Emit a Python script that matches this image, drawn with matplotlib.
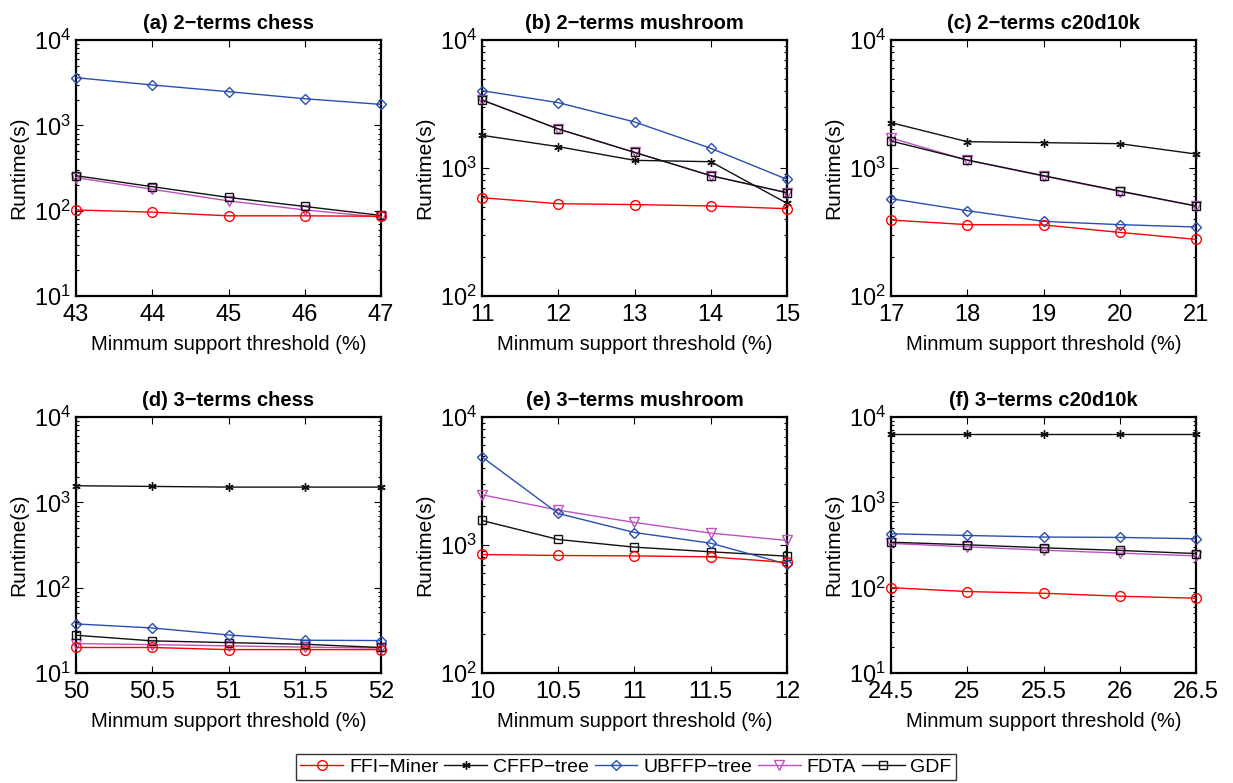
import matplotlib
matplotlib.use("Agg")
import matplotlib.pyplot as plt
from matplotlib.ticker import LogLocator, NullFormatter
import numpy as np

plt.rcParams['font.family'] = ['Liberation Sans', 'DejaVu Sans']
plt.rcParams['mathtext.fontset'] = 'custom'
plt.rcParams['mathtext.rm'] = 'Liberation Sans'
plt.rcParams['mathtext.it'] = 'Liberation Sans:italic'
plt.rcParams['mathtext.bf'] = 'Liberation Sans:bold'

series_names = ["FFI\u2212Miner", "CFFP\u2212tree", "UBFFP\u2212tree", "FDTA", "GDF"]

# (a) 2-terms chess
x_a = [43, 44, 45, 46, 47]
ffi_a = [102, 96, 87, 87, 86]
cffp_a = None
ubffp_a = [3620, 2970, 2480, 2050, 1760]
fdta_a = [244, 178, 130, 102, 84]
gdf_a = [257, 191, 143, 112, 88]

# (b) 2-terms mushroom
x_b = [11, 12, 13, 14, 15]
ffi_b = [586, 526, 518, 505, 481]
cffp_b = [1800, 1468, 1148, 1120, 530]
ubffp_b = [4020, 3240, 2290, 1425, 815]
fdta_b = [3400, 2018, 1325, 871, 641]
gdf_b = [3400, 2018, 1325, 871, 641]

# (c) 2-terms c20d10k
x_c = [17, 18, 19, 20, 21]
ffi_c = [392, 361, 359, 314, 277]
cffp_c = [2260, 1605, 1578, 1549, 1286]
ubffp_c = [576, 464, 383, 361, 346]
fdta_c = [1715, 1150, 865, 655, 505]
gdf_c = [1625, 1155, 871, 661, 505]

# (d) 3-terms chess
x_d = [50, 50.5, 51, 51.5, 52]
ffi_d = [19.9, 19.9, 18.8, 18.8, 18.8]
cffp_d = [1564, 1536, 1508, 1508, 1508]
ubffp_d = [37.6, 33.7, 27.9, 24.2, 24.0]
fdta_d = [22.1, 21.5, 20.8, 20.1, 19.6]
gdf_d = [27.7, 23.8, 22.7, 21.7, 19.9]

# (e) 3-terms mushroom
x_e = [10, 10.5, 11, 11.5, 12]
ffi_e = [843, 828, 822, 808, 730]
cffp_e = None
ubffp_e = [4870, 1763, 1252, 1033, 708]
fdta_e = [2468, 1873, 1500, 1238, 1085]
gdf_e = [1554, 1104, 962, 885, 818]

# (f) 3-terms c20d10k
x_f = [24.5, 25, 25.5, 26, 26.5]
ffi_f = [100, 90, 86, 79.4, 75.2]
cffp_f = [6260, 6260, 6260, 6260, 6260]
ubffp_f = [428, 409, 392, 388, 374]
fdta_f = [330, 301, 275, 254, 236]
gdf_f = [341, 318, 293, 273, 251]

titles = ["(a) 2\u2212terms chess", "(b) 2\u2212terms mushroom", "(c) 2\u2212terms c20d10k",
          "(d) 3\u2212terms chess", "(e) 3\u2212terms mushroom", "(f) 3\u2212terms c20d10k"]
xticklabels = [["43", "44", "45", "46", "47"], ["11", "12", "13", "14", "15"],
               ["17", "18", "19", "20", "21"], ["50", "50.5", "51", "51.5", "52"],
               ["10", "10.5", "11", "11.5", "12"], ["24.5", "25", "25.5", "26", "26.5"]]
ylims = [(10, 1e4), (1e2, 1e4), (1e2, 1e4), (10, 1e4), (1e2, 1e4), (10, 1e4)]

panels = [
    (x_a, [ffi_a, cffp_a, ubffp_a, fdta_a, gdf_a]),
    (x_b, [ffi_b, cffp_b, ubffp_b, fdta_b, gdf_b]),
    (x_c, [ffi_c, cffp_c, ubffp_c, fdta_c, gdf_c]),
    (x_d, [ffi_d, cffp_d, ubffp_d, fdta_d, gdf_d]),
    (x_e, [ffi_e, cffp_e, ubffp_e, fdta_e, gdf_e]),
    (x_f, [ffi_f, cffp_f, ubffp_f, fdta_f, gdf_f]),
]

styles = [
    dict(color='#ff0000', marker='o', markersize=7, markerfacecolor='none'),
    dict(color='#111111', marker=(6, 2, 0), markersize=6),
    dict(color='#2a4db3', marker='D', markersize=5.5, markerfacecolor='none'),
    dict(color='#c050c0', marker='v', markersize=7, markerfacecolor='none'),
    dict(color='#111111', marker='s', markersize=6, markerfacecolor='none'),
]
order = [3, 4, 1, 2, 0]

W, H = 1233, 783
fig = plt.figure(figsize=(W / 100, H / 100), dpi=100)

lefts = [76, 482, 891]
tops = [40, 417]
aw, ah = 305, 256

handles = [None] * 5
for i, (xs, ys) in enumerate(panels):
    r, c = divmod(i, 3)
    l = lefts[c]
    t = tops[r]
    ax = fig.add_axes([l / W, 1 - (t + ah) / H, aw / W, ah / H])
    for k in order:
        y = ys[k]
        if y is None:
            continue
        ln, = ax.plot(xs, y, linewidth=1.0, markeredgewidth=1.0, label=series_names[k],
                      clip_on=False, zorder=3, **styles[k])
        handles[k] = ln
    ax.set_yscale('log')
    ax.set_ylim(*ylims[i])
    ax.set_xlim(xs[0], xs[-1])
    ax.yaxis.set_minor_locator(LogLocator(base=10, subs=np.arange(2, 10), numticks=20))
    ax.yaxis.set_minor_formatter(NullFormatter())
    ax.set_xticks(xs)
    ax.set_xticklabels(xticklabels[i])
    ax.tick_params(which='both', direction='in', top=True, right=True, labelsize=17, width=0.8)
    ax.tick_params(which='major', length=5)
    ax.tick_params(which='minor', length=2.5)
    ax.tick_params(axis='x', pad=6)
    for s in ax.spines.values():
        s.set_linewidth(1.6)
        s.set_zorder(2)
    ax.set_title(titles[i], fontsize=14.5, fontweight='bold', pad=8)
    ax.set_xlabel("Minmum support threshold (%)", fontsize=14.5, labelpad=6)
    ax.set_ylabel("Runtime(s)", fontsize=15, labelpad=4)

leg = fig.legend(handles, series_names, loc='center', bbox_to_anchor=(626 / W, 1 - 767 / H),
                 ncol=5, fontsize=14, frameon=True, fancybox=False, edgecolor='black',
                 handlelength=2.2, handletextpad=0.3, columnspacing=0.3, borderpad=0.2,
                 borderaxespad=0)
leg.get_frame().set_linewidth(1.0)

fig.savefig("out.png", dpi=100)
